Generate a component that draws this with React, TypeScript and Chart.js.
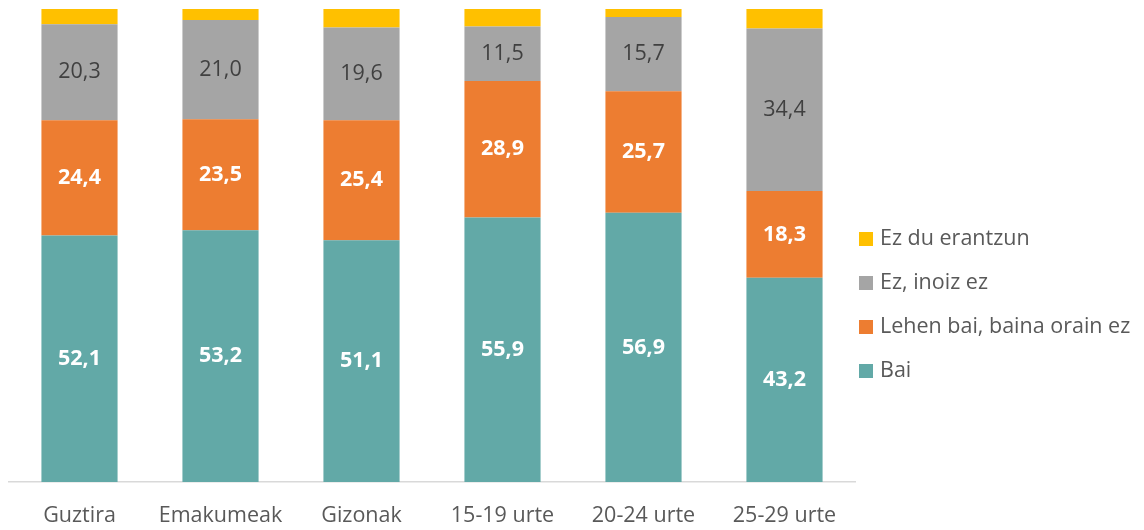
import React, { useEffect, useRef } from "react";
import { Chart, registerables } from "chart.js";

Chart.register(...registerables);

const categories = ["Guztira", "Emakumeak", "Gizonak", "15-19 urte", "20-24 urte", "25-29 urte"];
const bai = [52.1, 53.2, 51.1, 55.9, 56.9, 43.2];
const lehenBai = [24.4, 23.5, 25.4, 28.9, 25.7, 18.3];
const inoizEz = [20.3, 21.0, 19.6, 11.5, 15.7, 34.4];
const ezDuErantzun = [3.2, 2.3, 3.9, 3.7, 1.7, 4.1];

const seriesLabels = ["Bai", "Lehen bai, baina orain ez", "Ez, inoiz ez", "Ez du erantzun"];
const seriesColors = ["#62A9A7", "#ED7D31", "#A5A5A5", "#FFC000"];
const FONT = "'Open Sans', sans-serif";
const FS = 21.5;

const fmt = (v: number) => v.toFixed(1).replace(".", ",");

const valueLabels = {
  id: "valueLabels",
  afterDatasetsDraw(chart: any) {
    const ctx = chart.ctx;
    ctx.save();
    ctx.textAlign = "center";
    ctx.textBaseline = "middle";
    chart.data.datasets.forEach((ds: any, di: number) => {
      if (di === 3) return;
      const meta = chart.getDatasetMeta(di);
      meta.data.forEach((el: any, i: number) => {
        const v = ds.data[i];
        const y = (el.y + el.base) / 2;
        if (di === 2) {
          ctx.fillStyle = "#404040";
          ctx.font = `${FS}px ${FONT}`;
        } else {
          ctx.fillStyle = "#FFFFFF";
          ctx.font = `bold ${FS}px ${FONT}`;
        }
        ctx.fillText(fmt(v), el.x, y);
      });
    });
    ctx.restore();
  },
};

const sideLegend = {
  id: "sideLegend",
  afterDraw(chart: any) {
    const ctx = chart.ctx;
    ctx.save();
    ctx.textBaseline = "middle";
    ctx.textAlign = "left";
    ctx.font = `${FS}px ${FONT}`;
    const order = [3, 2, 1, 0];
    order.forEach((di, k) => {
      const ds = chart.data.datasets[di];
      const cy = 239 + k * 44;
      ctx.fillStyle = ds.backgroundColor;
      ctx.fillRect(859, cy - 7, 14, 14);
      ctx.fillStyle = "#595959";
      ctx.fillText(ds.label, 880, cy);
    });
    ctx.restore();
  },
};

export default function App() {
  const ref = useRef<HTMLCanvasElement>(null);
  useEffect(() => {
    if (!ref.current) return;
    const data = [bai, lehenBai, inoizEz, ezDuErantzun];
    const chart = new Chart(ref.current, {
      type: "bar",
      data: {
        labels: categories,
        datasets: data.map((d, i) => ({
          label: seriesLabels[i],
          data: d,
          backgroundColor: seriesColors[i],
          borderWidth: 0,
          barPercentage: 0.54,
          categoryPercentage: 1,
        })),
      },
      options: {
        animation: false,
        responsive: false,
        maintainAspectRatio: false,
        layout: { padding: { left: 9, right: 289, top: 9, bottom: 0 } },
        plugins: {
          legend: { display: false },
          tooltip: { enabled: false },
        },
        scales: {
          x: {
            stacked: true,
            grid: { display: false, drawTicks: false },
            border: { display: true, color: "#D9D9D9", width: 1.5 },
            ticks: {
              color: "#595959",
              font: { family: FONT, size: FS },
              padding: 21,
              maxRotation: 0,
            },
            afterFit(scale: any) {
              scale.height = 48;
            },
          },
          y: {
            stacked: true,
            display: false,
            min: 0,
            max: 100,
          },
        },
      },
      plugins: [valueLabels, sideLegend],
    });
    return () => chart.destroy();
  }, []);
  return (
    <div style={{ position: "absolute", left: 0, top: 0, width: 1144, height: 530 }}>
      <canvas ref={ref} width={1144} height={530} style={{ width: 1144, height: 530 }} />
    </div>
  );
}
